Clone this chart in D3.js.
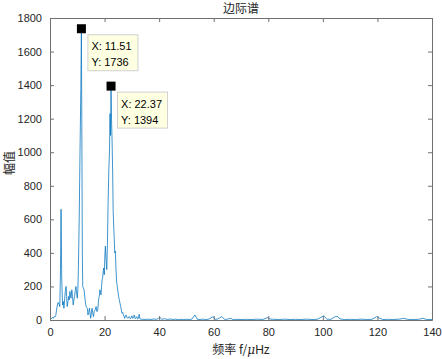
<!DOCTYPE html>
<html>
<head>
<meta charset="utf-8">
<script src="https://cdn.jsdelivr.net/npm/d3@7"></script>
<style>
  body { margin: 0; background: #fff; }
  svg { display: block; }
</style>
</head>
<body>
<div id="chart"></div>
<script>
// spectrum: frequency (Hz) and amplitude
var freqs = [0, 0.3, 0.6, 0.9, 1.2, 1.5, 1.8, 2.1, 2.4, 2.7, 3.0, 3.3, 3.6, 3.85, 4.05, 4.3, 4.6, 4.9,
  5.1, 5.4, 5.6, 5.9, 6.1, 6.3, 6.6, 6.8, 7.05, 7.3, 7.5, 7.7, 8.0, 8.25, 8.5, 8.75, 9.0, 9.25, 9.5,
  9.75, 10.0, 10.2, 10.4, 10.7, 11.0, 11.3, 11.51, 11.7, 11.85, 12.0, 12.25, 12.5, 12.8, 13.1, 13.4,
  13.7, 13.9, 14.2, 14.45, 14.7, 14.9, 15.15, 15.4, 15.65, 15.9, 16.2, 16.5, 16.9, 17.2, 17.5, 17.8,
  18.05, 18.3, 18.5, 18.7, 18.9, 19.1, 19.3, 19.5, 19.7, 19.9, 20.1, 20.3, 20.55, 20.8, 21.05, 21.3,
  21.55, 21.8, 22.0, 22.2, 22.37, 22.55, 22.75, 22.95, 23.15, 23.35, 23.55, 23.75, 23.95, 24.2, 24.4,
  24.65, 24.9, 25.15, 25.4, 25.65, 25.9, 26.15, 26.4, 26.65, 26.9, 27.15, 27.4, 27.65, 27.9, 28.2,
  28.5, 28.8, 29.1, 29.4, 29.7, 30.0, 30.3, 30.6, 30.9, 31.2, 31.5, 31.8, 32.1, 32.4, 32.7, 32.95,
  33.3, 34, 35, 36, 37, 38, 39, 40.3, 41, 42, 43, 44, 45, 46, 47, 48, 49, 50, 51, 52, 53.1, 54, 55,
  56, 57, 58, 59.8, 60.5, 61.5, 62.9, 64, 65, 66.2, 67, 68, 70, 72, 74, 76, 78, 79.9, 80.6, 82, 84,
  86, 88, 90, 92, 94, 96, 98, 100.3, 101.5, 103, 104.5, 105.5, 106.3, 108, 110, 112, 114, 116, 118,
  119.7, 120.6, 122, 124, 126, 128, 129.6, 131, 133, 135, 136.8, 138, 140];
var amps = [5, 12, 8, 15, 10, 20, 18, 25, 60, 90, 105, 95, 80, 300, 660, 250, 90, 110,
  70, 130, 170, 200, 140, 80, 110, 140, 120, 170, 150, 130, 180, 140, 90, 120, 140, 175, 200,
  160, 130, 180, 300, 600, 1000, 1380, 1736, 1000, 400, 200, 190, 180, 130, 90, 75,
  70, 30, 45, 70, 35, 10, 40, 70, 45, 20, 50, 60, 80, 50, 60, 120,
  140, 180, 160, 150, 200, 240, 250, 290, 310, 270, 380, 440, 360, 300, 450, 700,
  890, 1000, 1230, 1100, 1394, 1200, 1070, 900, 650, 560, 480, 400, 410, 300, 230,
  200, 170, 140, 120, 100, 80, 60, 40, 45, 30, 20, 10, 25, 30, 15,
  10, 18, 20, 8, 12, 25, 10, 15, 30, 8, 12, 20, 6, 10, 34, 8,
  5, 4, 3, 5, 3, 6, 4, 15, 4, 8, 3, 6, 3, 5, 3, 4, 3, 4, 3, 5, 30, 4, 3,
  5, 3, 4, 20, 4, 6, 20, 4, 5, 10, 3, 4, 3, 4, 3, 5, 3, 15, 6, 4, 3,
  5, 3, 4, 3, 5, 3, 4, 25, 5, 4, 20, 20, 6, 3, 4, 3, 5, 3, 4,
  20, 12, 3, 4, 3, 5, 10, 4, 3, 4, 10, 3, 3];

// data tips
var tipX = [11.51, 22.37];
var tipY = [1736, 1394];

var xTicks = [0, 20, 40, 60, 80, 100, 120, 140];
var yTicks = [0, 200, 400, 600, 800, 1000, 1200, 1400, 1600, 1800];

var W = 442, H = 359;
var margin = { top: 18, right: 10, bottom: 39, left: 50 },
    width = W - margin.left - margin.right,
    height = H - margin.top - margin.bottom;

var points = freqs.map(function(f, i) { return { f: f, a: amps[i] }; });

var svg = d3.select("#chart")
    .append("svg")
    .attr("width", W)
    .attr("height", H);

var g = svg.append("g")
    .attr("transform", "translate(" + margin.left + "," + margin.top + ")");

var x = d3.scaleLinear().domain([0, 140]).range([0, width]);
var y = d3.scaleLinear().domain([0, 1800]).range([height, 0]);

var axisColor = "#707070";
var textColor = "#262626";
var font = "Arial, 'Liberation Sans', sans-serif";

g.append("clipPath").attr("id", "clip")
  .append("rect").attr("width", width).attr("height", height);

// spectrum line
g.append("path")
    .datum(points)
    .attr("clip-path", "url(#clip)")
    .attr("fill", "none")
    .attr("stroke", "#0072BD")
    .attr("stroke-width", 0.75)
    .attr("stroke-linejoin", "round")
    .attr("d", d3.line()
        .x(function(d) { return x(d.f); })
        .y(function(d) { return y(d.a); }));

// axes with inward ticks, box on
function styleAxis(sel) {
  sel.select(".domain").attr("stroke", axisColor);
  sel.selectAll(".tick line").attr("stroke", axisColor);
  sel.selectAll(".tick text")
      .attr("fill", textColor)
      .attr("font-family", font)
      .attr("font-size", "11px");
}

g.append("g")
    .attr("transform", "translate(0," + height + ")")
    .call(d3.axisBottom(x).tickValues(xTicks).tickFormat(d3.format("d"))
        .tickSizeInner(-4).tickSizeOuter(0).tickPadding(8))
    .call(styleAxis);

g.append("g")
    .call(d3.axisLeft(y).tickValues(yTicks).tickFormat(d3.format("d"))
        .tickSizeInner(-4).tickSizeOuter(0).tickPadding(8))
    .call(styleAxis);

g.append("g")
    .call(d3.axisTop(x).tickValues(xTicks).tickSizeInner(-4).tickSizeOuter(0).tickFormat(""))
    .call(styleAxis);

g.append("g")
    .attr("transform", "translate(" + width + ",0)")
    .call(d3.axisRight(y).tickValues(yTicks).tickSizeInner(-4).tickSizeOuter(0).tickFormat(""))
    .call(styleAxis);

// title and labels
svg.append("text")
    .attr("x", margin.left + width / 2)
    .attr("y", 13)
    .attr("text-anchor", "middle")
    .attr("font-family", "'Noto Sans CJK SC', sans-serif")
    .attr("font-size", "12px")
    .attr("fill", textColor)
    .text("边际谱");

var xl = svg.append("text")
    .attr("x", margin.left + width / 2)
    .attr("y", 354)
    .attr("text-anchor", "middle")
    .attr("font-family", "'Noto Sans CJK SC', sans-serif")
    .attr("font-size", "12px")
    .attr("fill", textColor);
xl.append("tspan").text("频率 f/");
xl.append("tspan").attr("font-family", "'DejaVu Serif', serif").attr("font-style", "italic").text("μ");
xl.append("tspan").attr("font-family", font).text("Hz");

svg.append("text")
    .attr("transform", "translate(14," + 163 + ") rotate(-90)")
    .attr("text-anchor", "middle")
    .attr("font-family", "'Noto Sans CJK SC', sans-serif")
    .attr("font-size", "12px")
    .attr("fill", textColor)
    .text("幅值");

// data tips: marker + label box
tipX.forEach(function(tx, i) {
  var px = x(tx), py = y(tipY[i]);
  g.append("rect")
      .attr("x", px - 4.5).attr("y", py - 4.5)
      .attr("width", 9).attr("height", 9)
      .attr("fill", "#000");
  var box = g.append("g").attr("transform", "translate(" + (px + 6) + "," + (py + 5.5) + ")");
  box.append("rect")
      .attr("x", 0.5).attr("y", 0.5)
      .attr("width", 50).attr("height", 36)
      .attr("fill", "#ffffe1")
      .attr("stroke", "#d0d0d0");
  box.append("text")
      .attr("x", 4).attr("y", 16)
      .attr("font-family", font).attr("font-size", "11px").attr("fill", "#000")
      .text("X: " + tx);
  box.append("text")
      .attr("x", 4).attr("y", 32)
      .attr("font-family", font).attr("font-size", "11px").attr("fill", "#000")
      .text("Y: " + tipY[i]);
});
</script>
</body>
</html>
